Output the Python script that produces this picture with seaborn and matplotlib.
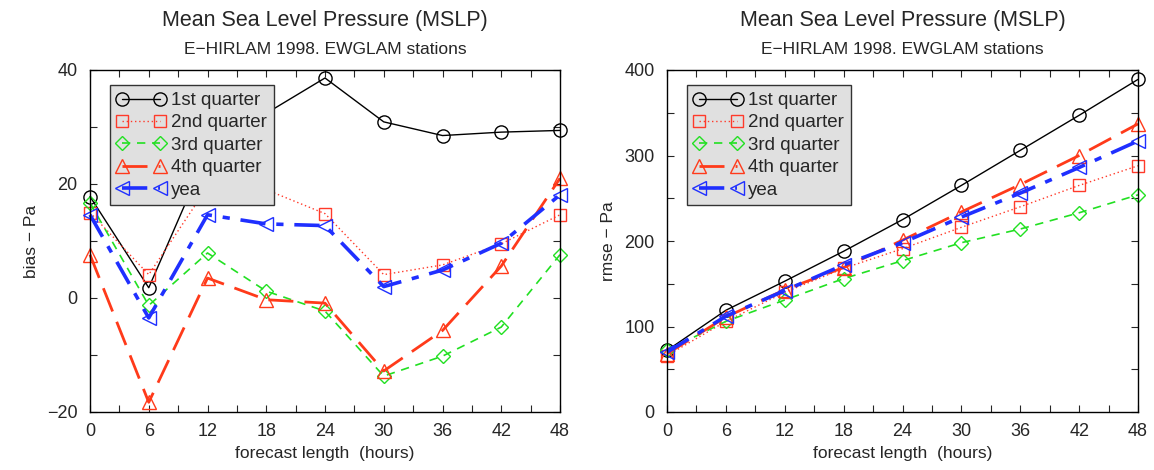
import matplotlib
matplotlib.use("Agg")
import matplotlib.pyplot as plt
from matplotlib.ticker import MultipleLocator
import seaborn as sns

hours = [0, 6, 12, 18, 24, 30, 36, 42, 48]
series_names = ["1st quarter", "2nd quarter", "3rd quarter", "4th quarter", "yea"]

bias_q1 = [17.8, 1.8, 25.5, 32.4, 38.6, 30.9, 28.5, 29.1, 29.4]
bias_q2 = [15.0, 4.1, 19.5, 19.0, 14.8, 4.1, 5.8, 9.5, 14.6]
bias_q3 = [16.7, -1.3, 7.9, 1.2, -2.3, -13.7, -10.2, -5.1, 7.6]
bias_q4 = [7.6, -18.3, 3.5, -0.3, -0.9, -12.8, -5.7, 5.6, 21.0]
bias_yea = [14.6, -3.5, 14.6, 13.0, 12.7, 2.0, 4.9, 9.6, 18.1]

rmse_q1 = [72, 119, 153, 188, 225, 265, 306, 347, 389]
rmse_q2 = [66, 106, 140, 168, 191, 216, 240, 265, 288]
rmse_q3 = [72, 106, 131, 156, 177, 198, 214, 233, 254]
rmse_q4 = [68, 111, 143, 169, 201, 234, 266, 300, 337]
rmse_yea = [70, 112, 142, 172, 198, 228, 256, 286, 317]

title = "Mean Sea Level Pressure (MSLP)"
subtitle = "E\u2212HIRLAM 1998. EWGLAM stations"
xlabel = "forecast length  (hours)"
ylabels = ["bias \u2212 Pa", "rmse \u2212 Pa"]

styles = [
    dict(color="black", marker="o", linestyle="-", lw=1.0),
    dict(color="#ff3a2a", marker="s", linestyle=(0, (1, 2)), lw=1.0),
    dict(color="#22e022", marker="D", linestyle=(0, (5, 4)), lw=1.2),
    dict(color="#ff3a1a", marker="^", linestyle=(0, (9, 4)), lw=2.0),
    dict(color="#1f2fff", marker="<", linestyle=(0, (7, 3, 2, 3)), lw=2.6),
]
msizes = [9.5, 8, 7.5, 10, 10]

sns.set_theme(style="ticks")
plt.rcParams["font.family"] = ["Liberation Sans", "DejaVu Sans"]

fig = plt.figure(figsize=(11.54, 4.70), dpi=100)
ax1 = fig.add_axes([90/1154, 1-412/470, 470/1154, 342/470])
ax2 = fig.add_axes([667/1154, 1-412/470, 471/1154, 342/470])

panels = [
    (ax1, [bias_q1, bias_q2, bias_q3, bias_q4, bias_yea], (-20, 40), 20, 10),
    (ax2, [rmse_q1, rmse_q2, rmse_q3, rmse_q4, rmse_yea], (0, 400), 100, 50),
]

for i, (ax, data, ylim, major, minor) in enumerate(panels):
    for name, vals, st, ms in zip(series_names, data, styles, msizes):
        sns.lineplot(x=hours, y=vals, ax=ax, label=name, color=st["color"],
                     marker=st["marker"], linestyle=st["linestyle"],
                     linewidth=st["lw"], markersize=ms, markerfacecolor="none",
                     markeredgecolor=st["color"], markeredgewidth=1.0,
                     clip_on=False)
    ax.set_xlim(0, 48)
    ax.set_ylim(*ylim)
    ax.xaxis.set_major_locator(MultipleLocator(6))
    ax.xaxis.set_minor_locator(MultipleLocator(3))
    ax.yaxis.set_major_locator(MultipleLocator(major))
    ax.yaxis.set_minor_locator(MultipleLocator(minor))
    ax.tick_params(which="both", direction="in", top=True, right=True,
                   labelsize=13, length=5, width=0.8)
    ax.tick_params(axis="x", which="major", pad=8)
    ax.tick_params(axis="y", which="major", pad=9)
    for sp in ax.spines.values():
        sp.set_visible(True)
        sp.set_linewidth(1.0)
        sp.set_color("black")
    ax.set_xlabel(xlabel, fontsize=12.5, labelpad=4)
    ax.set_ylabel(ylabels[i], fontsize=12.5, labelpad=6)
    ax.text(0.5, 1.129, title, transform=ax.transAxes, ha="center",
            va="baseline", fontsize=15.5)
    ax.text(0.5, 1.047, subtitle, transform=ax.transAxes, ha="center",
            va="baseline", fontsize=12.5)
    leg = ax.legend(loc="upper left", bbox_to_anchor=(0.043, 0.955),
                    numpoints=2, fontsize=13.5, frameon=True, fancybox=False,
                    framealpha=1, facecolor="#e0e0e0", edgecolor="#333333",
                    handlelength=2.6, handletextpad=0.3, labelspacing=0.28,
                    borderpad=0.35, borderaxespad=0)
    leg.get_frame().set_linewidth(1.0)

fig.savefig("out.png", dpi=100)
